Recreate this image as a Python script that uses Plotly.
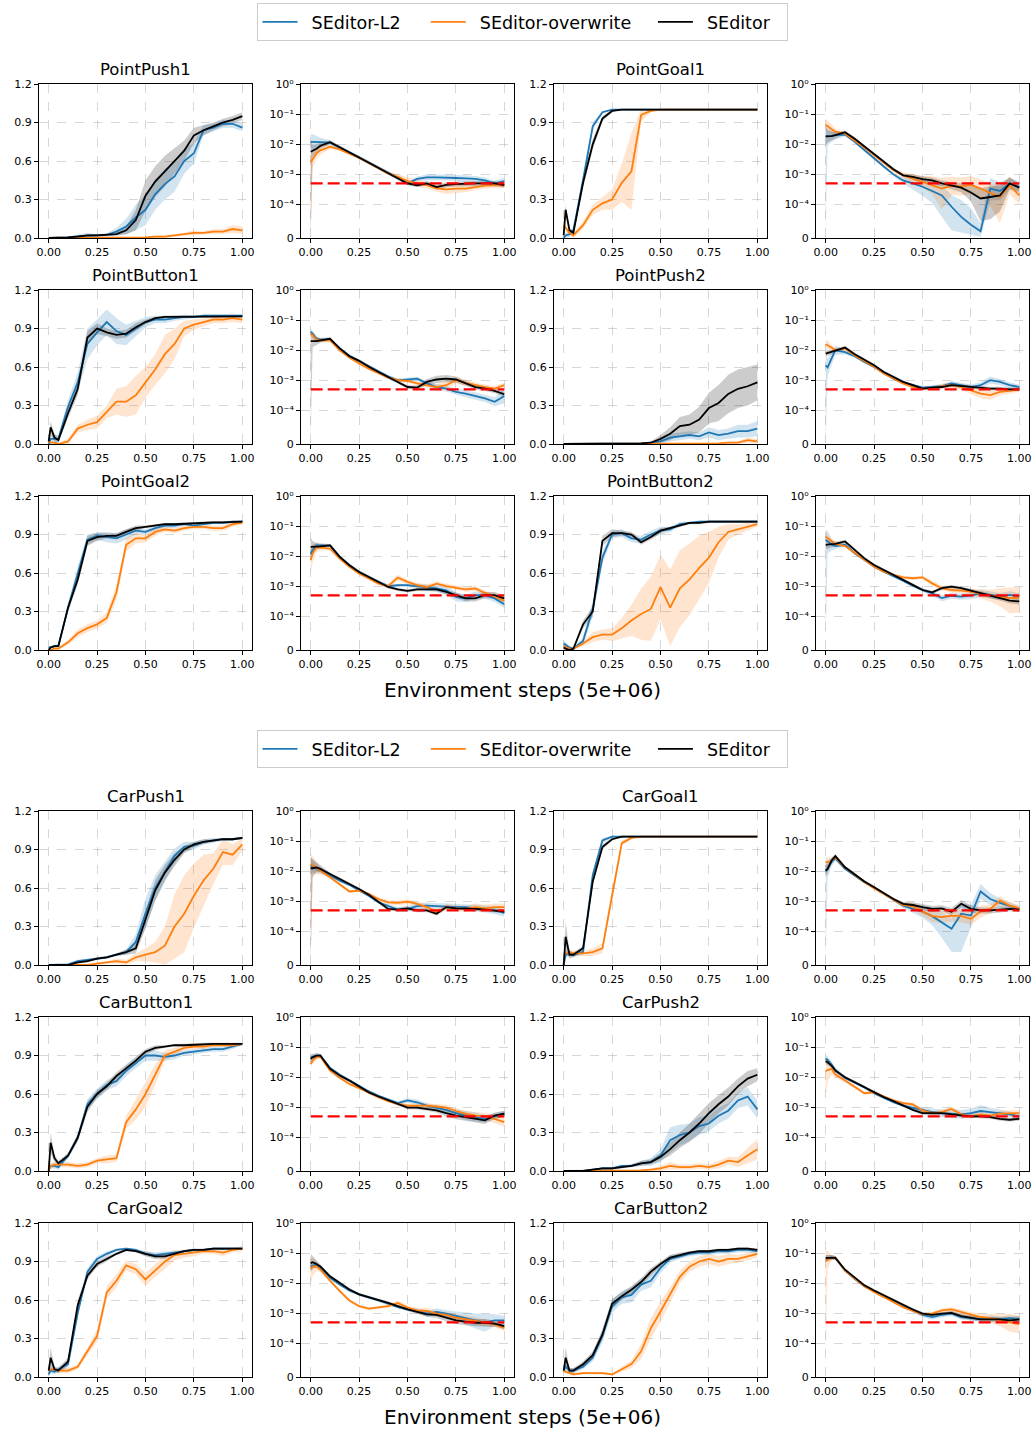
import math
import plotly.graph_objects as go

# ---------------- shared axes data ----------------
X = [0, 0.01, 0.03, 0.05, 0.10, 0.15, 0.20, 0.25, 0.30, 0.35, 0.40, 0.45,
     0.50, 0.55, 0.60, 0.65, 0.70, 0.75, 0.80, 0.85, 0.90, 0.95, 1.00]
METHODS = ["SEditor-L2", "SEditor-overwrite", "SEditor"]
COST_LIMIT = 5e-4
X_TICKS = [0, 0.25, 0.5, 0.75, 1.0]
SR_TICKS = [0, 0.3, 0.6, 0.9, 1.2]
COST_TICKS = [0, 1e-4, 1e-3, 1e-2, 1e-1, 1e0]
COST_TICK_TEXT = ["0", "10\u207b\u2074", "10\u207b\u00b3", "10\u207b\u00b2", "10\u207b\u00b9", "10\u2070"]
X_LABEL = "Environment steps (5e+06)"

# ---------------- PointPush1 ----------------
PP1_SR_L2 = [0,0,0,0, 0.005,0.015,0.02,0.02,0.025, 0.05,0.09,0.16,0.22,0.34, 0.42,0.48,0.60,0.66,0.84, 0.86,0.89,0.89,0.86]
PP1_SR_OW = [0,0,0,0, 0,0,0,0,0, 0,0,0,0.005,0.01, 0.01,0.02,0.03,0.04,0.04, 0.05,0.05,0.07,0.06]
PP1_SR_SE = [0,0,0,0, 0.005,0.01,0.02,0.02,0.025, 0.03,0.06,0.14,0.33,0.44, 0.52,0.60,0.68,0.80,0.84, 0.87,0.90,0.92,0.95]
PP1_SRB_L2 = [0,0,0,0, 0.005,0.01,0.02,0.01,0.01, 0.03,0.06,0.1,0.12,0.12, 0.12,0.12,0.1,0.08,0.04, 0.03,0.03,0.03,0.03]
PP1_SRB_OW = [0,0,0,0, 0,0,0,0,0, 0,0,0,0.005,0.01, 0.01,0.01,0.01,0.02,0.01, 0.02,0.02,0.03,0.03]
PP1_SRB_SE = [0,0,0,0, 0,0.005,0.01,0.01,0.01, 0.01,0.03,0.08,0.12,0.12, 0.12,0.1,0.08,0.06,0.04, 0.03,0.03,0.03,0.03]
PP1_LC_L2 = [-1.92,-1.92,-1.92,-1.93, -1.95,-2.1,-2.27,-2.43,-2.6, -2.77,-2.95,-3.12,-3.3,-3.15, -3.1,-3.1,-3.1,-3.12,-3.13, -3.15,-3.2,-3.3,-3.22]
PP1_LC_OW = [-2.6,-2.5,-2.3,-2.2, -2.08,-2.17,-2.3,-2.45,-2.62, -2.8,-2.97,-3.08,-3.22,-3.3, -3.36,-3.46,-3.5,-3.47,-3.47, -3.42,-3.37,-3.36,-3.36]
PP1_LC_SE = [-2.25,-2.22,-2.15,-2.05, -1.93,-2.1,-2.27,-2.43,-2.6, -2.77,-2.95,-3.12,-3.3,-3.36, -3.3,-3.42,-3.35,-3.32,-3.3, -3.3,-3.3,-3.3,-3.36]
PP1_LCB_L2 = [0.25,0.25,0.2,0.15, 0.08,0.05,0.05,0.05,0.05, 0.05,0.05,0.06,0.06,0.08, 0.1,0.1,0.1,0.1,0.1, 0.1,0.1,0.1,0.1]
PP1_LCB_OW = [3,0.3,0.2,0.15, 0.08,0.05,0.05,0.05,0.05, 0.05,0.06,0.1,0.12,0.12, 0.1,0.12,0.15,0.15,0.12, 0.1,0.1,0.1,0.1]
PP1_LCB_SE = [3,0.2,0.15,0.1, 0.06,0.05,0.05,0.05,0.05, 0.05,0.05,0.06,0.06,0.06, 0.08,0.08,0.08,0.08,0.08, 0.08,0.08,0.08,0.08]

# ---------------- PointGoal1 ----------------
PG1_SR_L2 = [0,0.02,0.03,0.06, 0.45,0.87,0.98,1,1, 1,1,1,1,1, 1,1,1,1,1, 1,1,1,1]
PG1_SR_OW = [0.1,0.08,0.04,0.02, 0.1,0.22,0.27,0.3,0.43, 0.52,0.96,0.99,1,1, 1,1,1,1,1, 1,1,1,1]
PG1_SR_SE = [0.02,0.22,0.06,0.04, 0.43,0.73,0.93,0.99,1, 1,1,1,1,1, 1,1,1,1,1, 1,1,1,1]
PG1_SRB_L2 = [0.01,0.02,0.02,0.02, 0.04,0.03,0.01,0,0, 0,0,0,0,0, 0,0,0,0,0, 0,0,0,0]
PG1_SRB_OW = [0.02,0.02,0.02,0.02, 0.03,0.04,0.05,0.08,0.15, 0.3,0.05,0.01,0,0, 0,0,0,0,0, 0,0,0,0]
PG1_SRB_SE = [0.01,0.04,0.02,0.02, 0.04,0.04,0.02,0.01,0, 0,0,0,0,0, 0,0,0,0,0, 0,0,0,0]
PG1_LC_L2 = [-1.74,-1.74,-1.72,-1.7, -1.68,-1.92,-2.2,-2.46,-2.74, -3.0,-3.2,-3.3,-3.41,-3.55, -3.7,-4.03,-4.2,-4.4,-4.7, -3.47,-3.55,-3.3,-3.41]
PG1_LC_OW = [-1.35,-1.4,-1.48,-1.58, -1.65,-1.87,-2.11,-2.36,-2.62, -2.86,-3.03,-3.14,-3.25,-3.36, -3.47,-3.38,-3.4,-3.35,-3.47, -3.62,-3.75,-3.36,-3.7]
PG1_LC_SE = [-1.74,-1.74,-1.73,-1.7, -1.6,-1.82,-2.08,-2.32,-2.57, -2.83,-3.03,-3.08,-3.16,-3.2, -3.3,-3.38,-3.44,-3.6,-3.8, -3.75,-3.7,-3.3,-3.44]
PG1_LCB_L2 = [3,0.3,0.2,0.15, 0.05,0.05,0.05,0.05,0.05, 0.05,0.1,0.2,0.3,0.4, 0.5,0.6,0.6,0.6,0.8, 0.4,0.3,0.2,0.15]
PG1_LCB_OW = [0.2,0.2,0.15,0.1, 0.05,0.05,0.05,0.05,0.05, 0.05,0.1,0.15,0.2,0.3, 0.6,0.3,0.3,0.3,0.3, 0.4,0.6,0.3,0.3]
PG1_LCB_SE = [0.3,0.2,0.15,0.1, 0.05,0.05,0.05,0.05,0.05, 0.05,0.05,0.08,0.1,0.1, 0.1,0.12,0.15,0.3,0.5, 0.5,0.4,0.2,0.15]

# ---------------- PointButton1 ----------------
PB1_SR_L2 = [0,0.04,0.04,0.04, 0.29,0.48,0.78,0.87,0.95, 0.88,0.85,0.9,0.95,0.97, 0.97,0.98,0.99,0.99,1, 1,1,1,1]
PB1_SR_OW = [0.02,0.01,0.01,0.0, 0.02,0.12,0.15,0.17,0.25, 0.33,0.33,0.38,0.48,0.58, 0.7,0.78,0.9,0.93,0.95, 0.97,0.97,0.98,0.97]
PB1_SR_SE = [0.02,0.13,0.05,0.03, 0.24,0.43,0.83,0.9,0.87, 0.85,0.86,0.91,0.95,0.98, 0.99,0.99,0.995,0.995,0.995, 0.995,0.995,0.995,0.995]
PB1_SRB_L2 = [0.02,0.03,0.03,0.03, 0.05,0.08,0.12,0.1,0.1, 0.1,0.08,0.06,0.04,0.03, 0.03,0.02,0.02,0.01,0.01, 0.01,0.01,0.01,0.01]
PB1_SRB_OW = [0.02,0.01,0.01,0.01, 0.02,0.03,0.04,0.05,0.05, 0.1,0.12,0.15,0.12,0.12, 0.15,0.12,0.06,0.04,0.03, 0.03,0.03,0.03,0.03]
PB1_SRB_SE = [0.02,0.05,0.03,0.02, 0.04,0.05,0.05,0.04,0.03, 0.03,0.03,0.03,0.02,0.01, 0.01,0.01,0.01,0.01,0.01, 0.01,0.01,0.01,0.01]
PB1_LC_L2 = [-1.39,-1.45,-1.61,-1.65, -1.65,-1.94,-2.18,-2.35,-2.52, -2.7,-2.87,-3.0,-2.97,-2.94, -3.1,-3.22,-3.27,-3.38,-3.44, -3.52,-3.6,-3.71,-3.52]
PB1_LC_OW = [-1.45,-1.5,-1.65,-1.67, -1.67,-2.0,-2.24,-2.44,-2.61, -2.75,-2.91,-2.99,-3.02,-3.1, -3.16,-3.22,-3.16,-2.99,-3.08, -3.16,-3.22,-3.27,-3.16]
PB1_LC_SE = [-1.7,-1.7,-1.7,-1.67, -1.62,-1.94,-2.2,-2.35,-2.55, -2.72,-2.88,-3.05,-3.22,-3.24, -3.05,-2.97,-2.94,-2.97,-3.1, -3.22,-3.27,-3.35,-3.46]
PB1_LCB_L2 = [0.1,0.1,0.08,0.06, 0.05,0.05,0.05,0.05,0.05, 0.05,0.05,0.06,0.06,0.06, 0.08,0.1,0.1,0.1,0.12, 0.12,0.12,0.15,0.25]
PB1_LCB_OW = [0.1,0.1,0.08,0.06, 0.05,0.05,0.05,0.05,0.05, 0.05,0.05,0.05,0.06,0.06, 0.08,0.1,0.12,0.12,0.1, 0.08,0.08,0.08,0.08]
PB1_LCB_SE = [3,0.2,0.12,0.08, 0.05,0.05,0.05,0.05,0.05, 0.05,0.05,0.06,0.06,0.08, 0.1,0.12,0.12,0.1,0.08, 0.08,0.08,0.08,0.08]

# ---------------- PointPush2 ----------------
PP2_SR_L2 = [0,0,0,0, 0,0,0,0.005,0.005, 0.005,0.005,0.01,0.02,0.05, 0.06,0.07,0.06,0.09,0.07, 0.08,0.1,0.1,0.12]
PP2_SR_OW = [0,0,0,0, 0,0,0,0,0, 0,0,0,0.005,0.005, 0.005,0.005,0.005,0.005,0.005, 0.01,0.01,0.03,0.02]
PP2_SR_SE = [0,0,0,0, 0,0.005,0.005,0.005,0.005, 0.005,0.005,0.01,0.04,0.08, 0.14,0.15,0.19,0.28,0.32, 0.39,0.43,0.45,0.48]
PP2_SRB_L2 = [0,0,0,0, 0,0,0,0,0, 0,0,0.005,0.02,0.03, 0.03,0.03,0.03,0.04,0.04, 0.04,0.05,0.05,0.06]
PP2_SRB_OW = [0,0,0,0, 0,0,0,0,0, 0,0,0,0,0.005, 0.005,0.005,0.005,0.005,0.005, 0.01,0.01,0.02,0.02]
PP2_SRB_SE = [0,0,0,0, 0,0,0,0,0, 0,0,0.01,0.03,0.05, 0.07,0.08,0.1,0.12,0.14, 0.15,0.15,0.15,0.14]
PP2_LC_L2 = [-2.5,-2.57,-2.28,-2.0, -2.06,-2.2,-2.39,-2.55,-2.75, -2.94,-3.08,-3.16,-3.24,-3.22, -3.19,-3.1,-3.16,-3.22,-3.16, -2.99,-3.05,-3.16,-3.22]
PP2_LC_OW = [-1.8,-1.83,-1.91,-2.0, -1.94,-2.17,-2.35,-2.55,-2.77, -2.94,-3.1,-3.22,-3.27,-3.27, -3.19,-3.16,-3.22,-3.33,-3.44, -3.49,-3.38,-3.35,-3.3]
PP2_LC_SE = [-2.11,-2.09,-2.06,-2.0, -1.91,-2.13,-2.31,-2.5,-2.72, -2.88,-3.05,-3.16,-3.27,-3.24, -3.22,-3.16,-3.19,-3.22,-3.24, -3.27,-3.27,-3.3,-3.3]
PP2_LCB_L2 = [3,0.3,0.2,0.15, 0.08,0.05,0.05,0.05,0.05, 0.05,0.05,0.05,0.05,0.06, 0.06,0.08,0.08,0.08,0.1, 0.12,0.1,0.1,0.08]
PP2_LCB_OW = [0.15,0.15,0.1,0.08, 0.05,0.05,0.05,0.05,0.05, 0.05,0.05,0.05,0.05,0.06, 0.08,0.1,0.1,0.12,0.15, 0.15,0.12,0.1,0.08]
PP2_LCB_SE = [0.1,0.1,0.08,0.06, 0.05,0.05,0.05,0.05,0.05, 0.05,0.05,0.05,0.05,0.05, 0.05,0.06,0.06,0.06,0.06, 0.06,0.06,0.06,0.06]

# ---------------- PointGoal2 ----------------
PG2_SR_L2 = [0.02,0.02,0.03,0.03, 0.33,0.6,0.86,0.89,0.88, 0.87,0.9,0.93,0.92,0.95, 0.97,0.97,0.98,0.97,0.98, 0.99,0.99,1.0,1.0]
PG2_SR_OW = [0,0,0.01,0.01, 0.06,0.13,0.17,0.2,0.25, 0.45,0.82,0.87,0.87,0.92, 0.94,0.93,0.95,0.96,0.96, 0.95,0.95,0.98,0.99]
PG2_SR_SE = [0,0.02,0.03,0.03, 0.33,0.55,0.85,0.88,0.89, 0.89,0.92,0.95,0.96,0.97, 0.98,0.98,0.985,0.99,0.99, 0.995,0.995,0.995,1.0]
PG2_SRB_L2 = [0.01,0.01,0.01,0.01, 0.03,0.05,0.04,0.03,0.04, 0.04,0.04,0.03,0.02,0.02, 0.02,0.02,0.01,0.01,0.01, 0.01,0.01,0.01,0.01]
PG2_SRB_OW = [0.01,0.01,0.01,0.01, 0.02,0.03,0.03,0.03,0.04, 0.06,0.05,0.04,0.03,0.03, 0.02,0.02,0.02,0.02,0.02, 0.02,0.02,0.02,0.01]
PG2_SRB_SE = [0.01,0.01,0.01,0.01, 0.03,0.04,0.04,0.03,0.02, 0.02,0.02,0.02,0.01,0.01, 0.01,0.01,0.01,0.01,0.01, 0.01,0.01,0.01,0.01]
PG2_LC_L2 = [-1.93,-1.8,-1.64,-1.64, -1.64,-2.02,-2.3,-2.52,-2.69, -2.85,-2.99,-2.96,-2.96,-2.99, -3.04,-3.07,-3.13,-3.35,-3.4, -3.29,-3.29,-3.4,-3.59]
PG2_LC_OW = [-2.13,-1.91,-1.71,-1.71, -1.75,-2.08,-2.35,-2.57,-2.74, -2.91,-2.99,-2.71,-2.85,-2.96, -3.02,-2.91,-2.99,-3.04,-3.1, -3.07,-3.22,-3.33,-3.48]
PG2_LC_SE = [-1.69,-1.69,-1.67,-1.67, -1.64,-2.02,-2.3,-2.52,-2.69, -2.85,-3.02,-3.1,-3.15,-3.1, -3.1,-3.1,-3.18,-3.29,-3.4, -3.4,-3.29,-3.29,-3.4]
PG2_LCB_L2 = [0.2,0.15,0.1,0.08, 0.05,0.05,0.05,0.05,0.05, 0.05,0.05,0.05,0.06,0.08, 0.1,0.12,0.15,0.15,0.12, 0.12,0.12,0.12,0.12]
PG2_LCB_OW = [0.5,0.3,0.15,0.1, 0.05,0.05,0.05,0.05,0.05, 0.05,0.08,0.1,0.08,0.08, 0.08,0.08,0.08,0.08,0.08, 0.08,0.08,0.1,0.1]
PG2_LCB_SE = [0.3,0.2,0.1,0.08, 0.05,0.05,0.05,0.05,0.05, 0.05,0.05,0.05,0.05,0.05, 0.06,0.06,0.08,0.1,0.1, 0.1,0.1,0.1,0.1]

# ---------------- PointButton2 ----------------
PB2_SR_L2 = [0.05,0.04,0.02,0.01, 0.07,0.32,0.72,0.9,0.91, 0.87,0.86,0.9,0.93,0.94, 0.98,0.99,1,1,1, 1,1,1,1]
PB2_SR_OW = [0.03,0.02,0.01,0.01, 0.05,0.1,0.12,0.12,0.17, 0.23,0.28,0.32,0.49,0.33, 0.48,0.55,0.64,0.72,0.84, 0.92,0.94,0.96,0.98]
PB2_SR_SE = [0.02,0.01,0.0,0.01, 0.2,0.3,0.85,0.91,0.91, 0.9,0.84,0.88,0.93,0.95, 0.97,0.99,0.99,1,1, 1,1,1,1]
PB2_SRB_L2 = [0.03,0.02,0.01,0.01, 0.03,0.06,0.05,0.03,0.03, 0.03,0.03,0.03,0.03,0.02, 0.02,0.01,0.01,0.01,0.01, 0.01,0.01,0.01,0.01]
PB2_SRB_OW = [0.01,0.01,0.01,0.01, 0.02,0.04,0.04,0.05,0.08, 0.12,0.2,0.25,0.25,0.3, 0.3,0.28,0.25,0.2,0.12, 0.06,0.04,0.03,0.02]
PB2_SRB_SE = [0.02,0.02,0.01,0.01, 0.03,0.04,0.04,0.03,0.02, 0.02,0.02,0.02,0.02,0.01, 0.01,0.01,0.01,0.01,0.01, 0.01,0.01,0.01,0.01]
PB2_LC_L2 = [-1.46,-1.5,-1.62,-1.66, -1.62,-1.9,-2.12,-2.34,-2.51, -2.65,-2.81,-2.98,-3.12,-3.23, -3.39,-3.31,-3.34,-3.31,-3.23, -3.28,-3.34,-3.28,-3.34]
PB2_LC_OW = [-1.35,-1.4,-1.51,-1.59, -1.66,-1.88,-2.1,-2.34,-2.51, -2.62,-2.7,-2.73,-2.7,-2.9, -3.06,-3.12,-3.14,-3.17,-3.25, -3.31,-3.36,-3.39,-3.37]
PB2_LC_SE = [-1.62,-1.62,-1.6,-1.59, -1.51,-1.79,-2.07,-2.29,-2.45, -2.62,-2.78,-2.95,-3.12,-3.2, -3.06,-3.01,-3.06,-3.14,-3.23, -3.31,-3.39,-3.47,-3.5]
PB2_LCB_L2 = [3,0.4,0.2,0.1, 0.06,0.05,0.05,0.05,0.05, 0.05,0.05,0.05,0.06,0.08, 0.1,0.1,0.1,0.12,0.12, 0.12,0.12,0.12,0.12]
PB2_LCB_OW = [0.15,0.12,0.1,0.08, 0.05,0.05,0.05,0.05,0.05, 0.05,0.05,0.06,0.06,0.08, 0.08,0.08,0.08,0.1,0.15, 0.2,0.3,0.5,0.5]
PB2_LCB_SE = [0.15,0.12,0.1,0.08, 0.05,0.05,0.05,0.05,0.05, 0.05,0.05,0.05,0.05,0.05, 0.06,0.06,0.06,0.06,0.08, 0.08,0.08,0.1,0.1]

# ---------------- CarPush1 ----------------
CP1_SR_L2 = [0,0,0,0, 0.005,0.03,0.04,0.05,0.06, 0.08,0.1,0.18,0.4,0.6, 0.73,0.85,0.92,0.93,0.96, 0.97,0.98,0.98,0.99]
CP1_SR_OW = [0,0,0,0, 0,0,0,0.01,0.02, 0.03,0.02,0.06,0.08,0.1, 0.15,0.3,0.4,0.54,0.66, 0.75,0.88,0.86,0.94]
CP1_SR_SE = [0,0,0,0, 0,0.02,0.03,0.05,0.06, 0.08,0.1,0.13,0.36,0.58, 0.72,0.82,0.9,0.94,0.96, 0.97,0.98,0.98,0.99]
CP1_SRB_L2 = [0,0,0,0, 0.005,0.01,0.01,0.01,0.01, 0.01,0.02,0.06,0.12,0.1, 0.08,0.06,0.04,0.03,0.02, 0.02,0.01,0.01,0.01]
CP1_SRB_OW = [0,0,0,0, 0,0,0,0.01,0.01, 0.02,0.02,0.03,0.05,0.08, 0.15,0.25,0.3,0.25,0.2, 0.12,0.1,0.08,0.05]
CP1_SRB_SE = [0,0,0,0, 0,0.01,0.01,0.01,0.01, 0.01,0.02,0.04,0.07,0.08, 0.06,0.05,0.03,0.02,0.02, 0.01,0.01,0.01,0.01]
CP1_LC_L2 = [-1.81,-1.83,-1.92,-1.98, -2.14,-2.31,-2.45,-2.64,-2.81, -3.03,-3.16,-3.27,-3.25,-3.16, -3.14,-3.16,-3.16,-3.19,-3.19, -3.23,-3.25,-3.3,-3.38]
CP1_LC_OW = [-1.76,-1.8,-1.9,-1.98, -2.2,-2.42,-2.67,-2.64,-2.75, -2.92,-3.03,-3.05,-3.01,-3.08, -3.19,-3.36,-3.19,-3.23,-3.25, -3.19,-3.23,-3.19,-3.19]
CP1_LC_SE = [-1.9,-1.9,-1.87,-1.92, -2.09,-2.25,-2.42,-2.59,-2.78, -3.01,-3.25,-3.27,-3.23,-3.3, -3.3,-3.41,-3.19,-3.23,-3.23, -3.25,-3.27,-3.3,-3.34]
CP1_LCB_L2 = [0.3,0.2,0.15,0.1, 0.06,0.05,0.05,0.05,0.05, 0.05,0.06,0.08,0.1,0.1, 0.1,0.1,0.1,0.1,0.1, 0.12,0.12,0.12,0.12]
CP1_LCB_OW = [3,0.3,0.2,0.12, 0.06,0.05,0.05,0.05,0.05, 0.06,0.08,0.08,0.08,0.08, 0.1,0.1,0.1,0.1,0.1, 0.12,0.12,0.12,0.12]
CP1_LCB_SE = [3,0.3,0.15,0.1, 0.05,0.05,0.05,0.05,0.05, 0.05,0.05,0.05,0.06,0.06, 0.06,0.06,0.06,0.06,0.06, 0.06,0.06,0.06,0.06]

# ---------------- CarGoal1 ----------------
CG1_SR_L2 = [0,0.08,0.09,0.08, 0.1,0.7,0.97,1,1, 1,1,1,1,1, 1,1,1,1,1, 1,1,1,1]
CG1_SR_OW = [0.08,0.09,0.1,0.09, 0.09,0.1,0.13,0.55,0.95, 0.99,1,1,1,1, 1,1,1,1,1, 1,1,1,1]
CG1_SR_SE = [0,0.22,0.08,0.08, 0.13,0.65,0.92,0.98,1, 1,1,1,1,1, 1,1,1,1,1, 1,1,1,1]
CG1_SRB_L2 = [0.01,0.02,0.02,0.02, 0.02,0.03,0.02,0.01,0, 0,0,0,0,0, 0,0,0,0,0, 0,0,0,0]
CG1_SRB_OW = [0.02,0.02,0.02,0.02, 0.02,0.03,0.04,0.05,0.02, 0.01,0,0,0,0, 0,0,0,0,0, 0,0,0,0]
CG1_SRB_SE = [0.01,0.12,0.03,0.02, 0.02,0.03,0.02,0.01,0, 0,0,0,0,0, 0,0,0,0,0, 0,0,0,0]
CG1_LC_L2 = [-2.01,-1.92,-1.7,-1.57, -1.92,-2.14,-2.36,-2.54,-2.74, -2.94,-3.14,-3.25,-3.34,-3.49, -3.69,-3.91,-3.41,-3.47,-2.67, -2.92,-3.05,-3.14,-3.25]
CG1_LC_OW = [-1.7,-1.7,-1.65,-1.54, -1.87,-2.12,-2.36,-2.56,-2.75, -2.94,-3.12,-3.16,-3.34,-3.49, -3.52,-3.47,-3.49,-3.58,-3.34, -3.25,-2.97,-3.14,-3.23]
CG1_LC_SE = [-1.98,-1.92,-1.65,-1.5, -1.87,-2.12,-2.34,-2.53,-2.72, -2.92,-3.08,-3.12,-3.19,-3.25, -3.23,-3.34,-3.08,-3.25,-3.3, -3.3,-3.27,-3.25,-3.27]
CG1_LCB_L2 = [3,0.3,0.15,0.08, 0.05,0.05,0.05,0.05,0.05, 0.05,0.08,0.12,0.2,0.3, 0.4,0.5,1.0,0.4,0.25, 0.2,0.15,0.12,0.1]
CG1_LCB_OW = [0.2,0.15,0.1,0.08, 0.05,0.05,0.05,0.05,0.05, 0.05,0.08,0.12,0.15,0.2, 0.2,0.2,0.2,0.2,0.2, 0.15,0.15,0.12,0.1]
CG1_LCB_SE = [0.2,0.15,0.1,0.08, 0.05,0.05,0.05,0.05,0.05, 0.05,0.06,0.08,0.1,0.1, 0.1,0.12,0.12,0.12,0.1, 0.1,0.1,0.08,0.08]

# ---------------- CarButton1 ----------------
CB1_SR_L2 = [0.02,0.04,0.04,0.03, 0.12,0.26,0.52,0.6,0.67, 0.7,0.78,0.84,0.9,0.9, 0.89,0.9,0.92,0.93,0.94, 0.95,0.95,0.97,0.99]
CB1_SR_OW = [0,0.04,0.05,0.05, 0.05,0.04,0.05,0.08,0.09, 0.1,0.38,0.48,0.6,0.75, 0.9,0.93,0.96,0.97,0.97, 0.98,0.98,0.98,0.99]
CB1_SR_SE = [0,0.22,0.1,0.06, 0.12,0.26,0.5,0.6,0.66, 0.74,0.8,0.86,0.93,0.96, 0.97,0.98,0.98,0.985,0.99, 0.99,0.99,0.99,0.99]
CB1_SRB_L2 = [0.02,0.02,0.02,0.02, 0.02,0.03,0.04,0.04,0.04, 0.04,0.04,0.04,0.04,0.04, 0.03,0.03,0.02,0.02,0.02, 0.02,0.02,0.02,0.01]
CB1_SRB_OW = [0.01,0.02,0.02,0.02, 0.02,0.02,0.02,0.02,0.03, 0.03,0.05,0.08,0.1,0.08, 0.04,0.03,0.02,0.02,0.02, 0.01,0.01,0.01,0.01]
CB1_SRB_SE = [0.01,0.08,0.03,0.02, 0.02,0.03,0.04,0.03,0.03, 0.03,0.03,0.03,0.02,0.02, 0.01,0.01,0.01,0.01,0.01, 0.01,0.01,0.01,0.01]
CB1_LC_L2 = [-1.34,-1.32,-1.28,-1.28, -1.69,-1.92,-2.11,-2.3,-2.47, -2.62,-2.75,-2.86,-2.77,-2.83, -2.94,-3.01,-3.08,-3.19,-3.27, -3.32,-3.38,-3.3,-3.21]
CB1_LC_OW = [-1.56,-1.45,-1.34,-1.32, -1.78,-2.02,-2.22,-2.35,-2.5, -2.66,-2.79,-2.88,-2.94,-2.94, -2.94,-2.97,-3.01,-3.12,-3.21, -3.27,-3.3,-3.38,-3.49]
CB1_LC_SE = [-1.39,-1.34,-1.28,-1.28, -1.72,-1.94,-2.11,-2.31,-2.5, -2.64,-2.77,-2.9,-3.01,-3.01, -3.05,-3.1,-3.19,-3.27,-3.32, -3.38,-3.43,-3.27,-3.21]
CB1_LCB_L2 = [0.1,0.1,0.08,0.06, 0.05,0.05,0.05,0.05,0.05, 0.05,0.05,0.06,0.08,0.08, 0.08,0.08,0.1,0.12,0.15, 0.15,0.12,0.1,0.1]
CB1_LCB_OW = [0.1,0.1,0.08,0.06, 0.05,0.05,0.05,0.05,0.05, 0.05,0.05,0.06,0.06,0.08, 0.08,0.08,0.1,0.1,0.1, 0.12,0.12,0.15,0.15]
CB1_LCB_SE = [0.1,0.1,0.08,0.06, 0.05,0.05,0.05,0.05,0.05, 0.05,0.05,0.05,0.05,0.06, 0.06,0.08,0.1,0.12,0.12, 0.12,0.12,0.1,0.1]

# ---------------- CarPush2 ----------------
CP2_SR_L2 = [0,0,0,0, 0,0.01,0.02,0.02,0.04, 0.04,0.06,0.07,0.12,0.24, 0.28,0.3,0.35,0.37,0.43, 0.47,0.55,0.58,0.48]
CP2_SR_OW = [0,0,0,0, 0,0,0,0,0, 0,0.005,0.01,0.02,0.04, 0.03,0.03,0.04,0.03,0.05, 0.08,0.07,0.12,0.17]
CP2_SR_SE = [0,0,0,0, 0,0.01,0.02,0.02,0.03, 0.04,0.06,0.07,0.11,0.17, 0.24,0.3,0.37,0.45,0.52, 0.58,0.66,0.72,0.75]
CP2_SRB_L2 = [0,0,0,0, 0,0.005,0.01,0.01,0.01, 0.01,0.02,0.03,0.05,0.1, 0.08,0.07,0.07,0.06,0.06, 0.06,0.06,0.07,0.07]
CP2_SRB_OW = [0,0,0,0, 0,0,0,0,0, 0,0.005,0.01,0.02,0.03, 0.02,0.02,0.02,0.02,0.03, 0.03,0.04,0.06,0.08]
CP2_SRB_SE = [0,0,0,0, 0,0.005,0.01,0.01,0.01, 0.01,0.02,0.02,0.03,0.05, 0.06,0.07,0.08,0.08,0.07, 0.07,0.06,0.06,0.05]
CP2_LC_L2 = [-1.39,-1.42,-1.58,-1.76, -2.02,-2.17,-2.33,-2.53,-2.68, -2.83,-2.94,-3.01,-3.1,-3.16, -3.19,-3.21,-3.23,-3.19,-3.12, -3.16,-3.19,-3.23,-3.3]
CP2_LC_OW = [-1.8,-1.76,-1.72,-1.91, -2.11,-2.33,-2.53,-2.5,-2.64, -2.77,-2.86,-2.9,-3.1,-3.19, -3.16,-3.05,-3.23,-3.3,-3.23, -3.27,-3.21,-3.19,-3.19]
CP2_LC_SE = [-1.47,-1.5,-1.61,-1.78, -2.0,-2.17,-2.33,-2.5,-2.66, -2.79,-2.94,-3.08,-3.19,-3.19, -3.19,-3.23,-3.27,-3.3,-3.3, -3.32,-3.38,-3.41,-3.38]
CP2_LCB_L2 = [0.15,0.12,0.1,0.08, 0.05,0.05,0.05,0.05,0.05, 0.05,0.06,0.08,0.1,0.12, 0.12,0.15,0.15,0.15,0.2, 0.15,0.12,0.1,0.1]
CP2_LCB_OW = [0.9,0.4,0.2,0.1, 0.06,0.05,0.05,0.05,0.05, 0.05,0.05,0.06,0.06,0.06, 0.08,0.08,0.08,0.08,0.08, 0.08,0.1,0.1,0.1]
CP2_LCB_SE = [0.1,0.1,0.08,0.06, 0.05,0.05,0.05,0.05,0.05, 0.05,0.05,0.05,0.06,0.06, 0.06,0.06,0.06,0.06,0.06, 0.06,0.06,0.06,0.06]

# ---------------- CarGoal2 ----------------
CG2_SR_L2 = [0.02,0.05,0.04,0.06, 0.1,0.5,0.82,0.92,0.96, 0.99,1.0,0.99,0.96,0.95, 0.96,0.97,0.98,0.99,0.99, 1,1,1,1]
CG2_SR_OW = [0.05,0.06,0.06,0.05, 0.05,0.08,0.2,0.32,0.66, 0.75,0.87,0.84,0.76,0.83, 0.9,0.95,0.96,0.97,0.98, 0.98,0.97,0.99,1.0]
CG2_SR_SE = [0.05,0.15,0.06,0.05, 0.12,0.56,0.79,0.88,0.92, 0.96,0.99,0.98,0.96,0.94, 0.94,0.96,0.98,0.99,0.99, 1,1,1,1]
CG2_SRB_L2 = [0.02,0.02,0.02,0.02, 0.03,0.04,0.03,0.02,0.02, 0.01,0.01,0.01,0.02,0.02, 0.02,0.01,0.01,0.01,0.01, 0.01,0.01,0.01,0.01]
CG2_SRB_OW = [0.02,0.02,0.02,0.02, 0.02,0.02,0.03,0.05,0.05, 0.05,0.04,0.04,0.05,0.05, 0.06,0.04,0.03,0.03,0.02, 0.02,0.03,0.02,0.02]
CG2_SRB_SE = [0.02,0.08,0.02,0.02, 0.03,0.04,0.03,0.02,0.02, 0.01,0.01,0.01,0.02,0.02, 0.02,0.01,0.01,0.01,0.01, 0.01,0.01,0.01,0.01]
CG2_LC_L2 = [-1.44,-1.42,-1.38,-1.49, -1.82,-2.04,-2.24,-2.37,-2.46, -2.57,-2.68,-2.79,-2.87,-2.92, -3.01,-2.95,-3.01,-3.09,-3.16, -3.25,-3.31,-3.23,-3.23]
CG2_LC_OW = [-1.52,-1.45,-1.44,-1.55, -1.91,-2.26,-2.57,-2.76,-2.84, -2.81,-2.76,-2.65,-2.81,-2.9, -2.92,-3.01,-3.05,-3.14,-3.2, -3.25,-3.31,-3.36,-3.49]
CG2_LC_SE = [-1.33,-1.3,-1.36,-1.44, -1.77,-1.99,-2.21,-2.37,-2.46, -2.54,-2.65,-2.76,-2.87,-2.95, -3.03,-3.05,-3.14,-3.23,-3.27, -3.31,-3.31,-3.34,-3.42]
CG2_LCB_L2 = [0.15,0.12,0.1,0.08, 0.05,0.05,0.05,0.05,0.05, 0.05,0.05,0.05,0.06,0.08, 0.1,0.12,0.12,0.15,0.2, 0.25,0.3,0.2,0.15]
CG2_LCB_OW = [0.6,0.3,0.15,0.08, 0.05,0.05,0.05,0.05,0.05, 0.05,0.06,0.08,0.08,0.08, 0.1,0.1,0.1,0.12,0.12, 0.12,0.12,0.1,0.1]
CG2_LCB_SE = [0.3,0.2,0.12,0.08, 0.05,0.05,0.05,0.05,0.05, 0.05,0.05,0.05,0.06,0.06, 0.08,0.1,0.12,0.12,0.12, 0.12,0.12,0.1,0.1]

# ---------------- CarButton2 ----------------
CB2_SR_L2 = [0.05,0.08,0.05,0.05, 0.08,0.15,0.32,0.55,0.62, 0.64,0.72,0.75,0.85,0.92, 0.94,0.96,0.97,0.97,0.98, 0.98,0.99,0.99,0.98]
CB2_SR_OW = [0.05,0.04,0.03,0.02, 0.03,0.03,0.03,0.02,0.06, 0.1,0.2,0.38,0.51,0.64, 0.78,0.86,0.9,0.92,0.9, 0.92,0.92,0.94,0.96]
CB2_SR_SE = [0.05,0.15,0.05,0.05, 0.1,0.17,0.33,0.57,0.63, 0.68,0.74,0.82,0.88,0.93, 0.95,0.97,0.98,0.98,0.99, 0.99,1.0,1.0,0.99]
CB2_SRB_L2 = [0.02,0.03,0.02,0.02, 0.02,0.03,0.05,0.05,0.05, 0.06,0.05,0.05,0.04,0.03, 0.02,0.02,0.02,0.02,0.02, 0.02,0.02,0.02,0.02]
CB2_SRB_OW = [0.01,0.01,0.01,0.01, 0.01,0.01,0.01,0.01,0.02, 0.03,0.06,0.08,0.08,0.06, 0.05,0.04,0.04,0.04,0.04, 0.04,0.03,0.03,0.03]
CB2_SRB_SE = [0.02,0.08,0.02,0.02, 0.02,0.03,0.04,0.04,0.03, 0.03,0.03,0.03,0.02,0.02, 0.02,0.01,0.01,0.01,0.01, 0.01,0.01,0.01,0.01]
CB2_LC_L2 = [-1.19,-1.17,-1.14,-1.16, -1.58,-1.85,-2.1,-2.26,-2.43, -2.59,-2.76,-2.9,-3.05,-3.12, -3.05,-3.01,-3.12,-3.16,-3.2, -3.16,-3.2,-3.16,-3.2]
CB2_LC_OW = [-1.27,-1.22,-1.16,-1.14, -1.58,-1.85,-2.1,-2.29,-2.46, -2.62,-2.79,-2.92,-3.03,-3.01, -2.9,-2.87,-2.95,-3.05,-3.12, -3.16,-3.23,-3.31,-3.36]
CB2_LC_SE = [-1.16,-1.16,-1.14,-1.16, -1.55,-1.82,-2.07,-2.24,-2.4, -2.57,-2.73,-2.87,-3.01,-3.05, -3.01,-2.98,-3.09,-3.14,-3.2, -3.2,-3.2,-3.23,-3.2]
CB2_LCB_L2 = [0.1,0.1,0.08,0.06, 0.05,0.05,0.05,0.05,0.05, 0.05,0.06,0.06,0.08,0.08, 0.08,0.08,0.08,0.08,0.08, 0.1,0.1,0.1,0.1]
CB2_LCB_OW = [3,0.3,0.1,0.06, 0.05,0.05,0.05,0.05,0.05, 0.05,0.05,0.05,0.06,0.06, 0.06,0.08,0.08,0.1,0.12, 0.15,0.2,0.3,0.3]
CB2_LCB_SE = [0.1,0.1,0.08,0.06, 0.05,0.05,0.05,0.05,0.05, 0.05,0.05,0.05,0.06,0.06, 0.06,0.06,0.08,0.08,0.08, 0.08,0.08,0.1,0.1]

# ------------- table assembled from the named arrays -------------
TASKS = {
    "PointPush1": ((PP1_SR_L2, PP1_SR_OW, PP1_SR_SE), (PP1_SRB_L2, PP1_SRB_OW, PP1_SRB_SE), (PP1_LC_L2, PP1_LC_OW, PP1_LC_SE), (PP1_LCB_L2, PP1_LCB_OW, PP1_LCB_SE)),
    "PointGoal1": ((PG1_SR_L2, PG1_SR_OW, PG1_SR_SE), (PG1_SRB_L2, PG1_SRB_OW, PG1_SRB_SE), (PG1_LC_L2, PG1_LC_OW, PG1_LC_SE), (PG1_LCB_L2, PG1_LCB_OW, PG1_LCB_SE)),
    "PointButton1": ((PB1_SR_L2, PB1_SR_OW, PB1_SR_SE), (PB1_SRB_L2, PB1_SRB_OW, PB1_SRB_SE), (PB1_LC_L2, PB1_LC_OW, PB1_LC_SE), (PB1_LCB_L2, PB1_LCB_OW, PB1_LCB_SE)),
    "PointPush2": ((PP2_SR_L2, PP2_SR_OW, PP2_SR_SE), (PP2_SRB_L2, PP2_SRB_OW, PP2_SRB_SE), (PP2_LC_L2, PP2_LC_OW, PP2_LC_SE), (PP2_LCB_L2, PP2_LCB_OW, PP2_LCB_SE)),
    "PointGoal2": ((PG2_SR_L2, PG2_SR_OW, PG2_SR_SE), (PG2_SRB_L2, PG2_SRB_OW, PG2_SRB_SE), (PG2_LC_L2, PG2_LC_OW, PG2_LC_SE), (PG2_LCB_L2, PG2_LCB_OW, PG2_LCB_SE)),
    "PointButton2": ((PB2_SR_L2, PB2_SR_OW, PB2_SR_SE), (PB2_SRB_L2, PB2_SRB_OW, PB2_SRB_SE), (PB2_LC_L2, PB2_LC_OW, PB2_LC_SE), (PB2_LCB_L2, PB2_LCB_OW, PB2_LCB_SE)),
    "CarPush1": ((CP1_SR_L2, CP1_SR_OW, CP1_SR_SE), (CP1_SRB_L2, CP1_SRB_OW, CP1_SRB_SE), (CP1_LC_L2, CP1_LC_OW, CP1_LC_SE), (CP1_LCB_L2, CP1_LCB_OW, CP1_LCB_SE)),
    "CarGoal1": ((CG1_SR_L2, CG1_SR_OW, CG1_SR_SE), (CG1_SRB_L2, CG1_SRB_OW, CG1_SRB_SE), (CG1_LC_L2, CG1_LC_OW, CG1_LC_SE), (CG1_LCB_L2, CG1_LCB_OW, CG1_LCB_SE)),
    "CarButton1": ((CB1_SR_L2, CB1_SR_OW, CB1_SR_SE), (CB1_SRB_L2, CB1_SRB_OW, CB1_SRB_SE), (CB1_LC_L2, CB1_LC_OW, CB1_LC_SE), (CB1_LCB_L2, CB1_LCB_OW, CB1_LCB_SE)),
    "CarPush2": ((CP2_SR_L2, CP2_SR_OW, CP2_SR_SE), (CP2_SRB_L2, CP2_SRB_OW, CP2_SRB_SE), (CP2_LC_L2, CP2_LC_OW, CP2_LC_SE), (CP2_LCB_L2, CP2_LCB_OW, CP2_LCB_SE)),
    "CarGoal2": ((CG2_SR_L2, CG2_SR_OW, CG2_SR_SE), (CG2_SRB_L2, CG2_SRB_OW, CG2_SRB_SE), (CG2_LC_L2, CG2_LC_OW, CG2_LC_SE), (CG2_LCB_L2, CG2_LCB_OW, CG2_LCB_SE)),
    "CarButton2": ((CB2_SR_L2, CB2_SR_OW, CB2_SR_SE), (CB2_SRB_L2, CB2_SRB_OW, CB2_SRB_SE), (CB2_LC_L2, CB2_LC_OW, CB2_LC_SE), (CB2_LCB_L2, CB2_LCB_OW, CB2_LCB_SE)),
}
GROUPS = [["PointPush1", "PointGoal1", "PointButton1", "PointPush2", "PointGoal2", "PointButton2"],
          ["CarPush1", "CarGoal1", "CarButton1", "CarPush2", "CarGoal2", "CarButton2"]]

# ---------------- style / layout ----------------
W, H = 1034, 1431
FONT = "DejaVu Sans"
COLORS = ["#1f77b4", "#ff7f0e", "#000000"]
FILLS = ["rgba(31,119,180,0.2)", "rgba(255,127,14,0.2)", "rgba(0,0,0,0.2)"]
COL_X = [(39, 252), (301, 514), (554, 767), (816, 1029)]
ROW_TOP = [84, 290, 496, 811, 1017, 1223]
ROW_H = 154
LEGEND_TOP = [3, 730]
XLABEL_Y = [690, 1417]
NB = "\u00a0"
# padding around legend labels to mimic matplotlib's handle/text/column spacing
LEGEND_PAD = [(NB + "\u2009", NB * 3 + "\u2009"), (NB + "\u2009", NB * 3), (NB + "\u2009", NB * 2)]
BAND_UPPER_CAP = 0.35

# symlog (linthresh=1e-4, linscale=1, base 10) transform for the cost axis
LINTHRESH = 1e-4
LINSCALE_ADJ = 1.0 / (1.0 - 0.1)


def symlog(v):
    if v <= LINTHRESH:
        return max(v, 0.0) / LINTHRESH * LINSCALE_ADJ
    return LINSCALE_ADJ + math.log10(v / LINTHRESH)


COST_TOP = symlog(COST_TICKS[-1])

for name, (sr, srb, lc, lcb) in TASKS.items():
    for arr in list(sr) + list(srb) + list(lc) + list(lcb):
        assert len(arr) == len(X), name

fig = go.Figure()
layout = {}
annotations = []


def sfx(k):
    return "" if k == 1 else str(k)


def axis_common(k, r, c):
    xl, xr = COL_X[c]
    top = ROW_TOP[r]
    base = dict(showline=True, mirror=True, linecolor="black", linewidth=1,
                ticks="outside", ticklen=4, tickwidth=1, tickcolor="black",
                showgrid=True, gridcolor="rgba(176,176,176,0.5)", gridwidth=0.8,
                griddash="dash", zeroline=False,
                tickfont=dict(family=FONT, size=11, color="black"))
    xa = dict(base, domain=[xl / W, xr / W], anchor="y" + sfx(k),
              range=[-0.05, 1.05], tickvals=X_TICKS,
              ticktext=["%.2f" % v for v in X_TICKS])
    ya_dom = [1 - (top + ROW_H) / H, 1 - top / H]
    ya = dict(base, domain=ya_dom, anchor="x" + sfx(k))
    return xa, ya


for g, tasks in enumerate(GROUPS):
    legend_name = "legend" if g == 0 else "legend2"
    for i, task in enumerate(tasks):
        r = g * 3 + i // 2
        c0 = (i % 2) * 2
        sr, srb, lc, lcb = TASKS[task]
        # success panel
        k = r * 4 + c0 + 1
        xa, ya = axis_common(k, r, c0)
        ya.update(range=[0, 1.2], tickvals=SR_TICKS, ticktext=["%.1f" % v for v in SR_TICKS])
        layout["xaxis" + sfx(k)] = xa
        layout["yaxis" + sfx(k)] = ya
        for m in range(3):
            lo = [a - b for a, b in zip(sr[m], srb[m])]
            hi = [a + b for a, b in zip(sr[m], srb[m])]
            fig.add_trace(go.Scatter(x=X + X[::-1], y=hi + lo[::-1], fill="toself",
                                     fillcolor=FILLS[m], line=dict(width=0),
                                     hoverinfo="skip", showlegend=False,
                                     xaxis="x" + sfx(k), yaxis="y" + sfx(k)))
        for m in range(3):
            pre, post = LEGEND_PAD[m]
            fig.add_trace(go.Scatter(x=X, y=sr[m], mode="lines", name=pre + METHODS[m] + post,
                                     line=dict(color=COLORS[m], width=1.8),
                                     legend=legend_name, legendgroup=METHODS[m],
                                     showlegend=(i == 0),
                                     xaxis="x" + sfx(k), yaxis="y" + sfx(k)))
        xl, xr = COL_X[c0]
        annotations.append(dict(text=task, x=(xl + xr) / 2 / W, y=1 - (ROW_TOP[r] - 3) / H,
                                xref="paper", yref="paper", xanchor="center", yanchor="bottom",
                                showarrow=False, font=dict(family=FONT, size=16.5, color="black")))
        # cost panel
        k = r * 4 + c0 + 2
        xa, ya = axis_common(k, r, c0 + 1)
        ya.update(range=[0, COST_TOP], tickvals=[symlog(v) for v in COST_TICKS],
                  ticktext=COST_TICK_TEXT)
        layout["xaxis" + sfx(k)] = xa
        layout["yaxis" + sfx(k)] = ya
        for m in range(3):
            lo = [symlog(10 ** (a - b)) for a, b in zip(lc[m], lcb[m])]
            hi = [symlog(10 ** (a + min(b, BAND_UPPER_CAP))) for a, b in zip(lc[m], lcb[m])]
            fig.add_trace(go.Scatter(x=X + X[::-1], y=hi + lo[::-1], fill="toself",
                                     fillcolor=FILLS[m], line=dict(width=0),
                                     hoverinfo="skip", showlegend=False,
                                     xaxis="x" + sfx(k), yaxis="y" + sfx(k)))
        for m in range(3):
            fig.add_trace(go.Scatter(x=X, y=[symlog(10 ** v) for v in lc[m]], mode="lines",
                                     name=METHODS[m], line=dict(color=COLORS[m], width=1.8),
                                     showlegend=False, legendgroup=METHODS[m],
                                     xaxis="x" + sfx(k), yaxis="y" + sfx(k)))
        fig.add_trace(go.Scatter(x=[X[0], X[-1]], y=[symlog(COST_LIMIT)] * 2, mode="lines",
                                 line=dict(color="red", width=2.2, dash="12px,5px"),
                                 showlegend=False, hoverinfo="skip",
                                 xaxis="x" + sfx(k), yaxis="y" + sfx(k)))
    annotations.append(dict(text=X_LABEL, x=522 / W, y=1 - XLABEL_Y[g] / H, xref="paper",
                            yref="paper", xanchor="center", yanchor="middle", showarrow=False,
                            font=dict(family=FONT, size=20, color="black")))

legend_style = dict(orientation="h", x=522 / W, xanchor="center", yanchor="top",
                    bgcolor="white", bordercolor="#cccccc", borderwidth=1,
                    font=dict(family=FONT, size=17.5, color="black"), itemwidth=35,
                    traceorder="normal")
layout["legend"] = dict(legend_style, y=1 - LEGEND_TOP[0] / H)
layout["legend2"] = dict(legend_style, y=1 - LEGEND_TOP[1] / H)

fig.update_layout(width=W, height=H, autosize=False,
                  margin=dict(l=0, r=0, t=0, b=0, pad=0, autoexpand=False),
                  plot_bgcolor="white", paper_bgcolor="white",
                  font=dict(family=FONT, color="black"),
                  annotations=annotations, **layout)

fig.write_html("out.html", config={"displayModeBar": False},
               post_script="document.body.style.margin='0';")
